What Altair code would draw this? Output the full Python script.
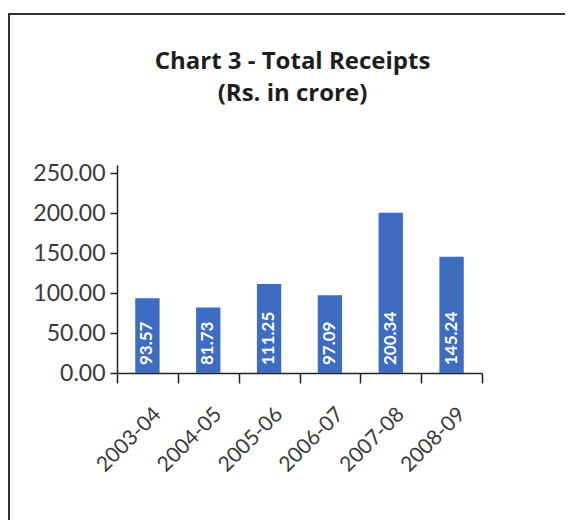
import altair as alt
import pandas as pd

years = ["2003-04", "2004-05", "2005-06", "2006-07", "2007-08", "2008-09"]
receipts = [93.57, 81.73, 111.25, 97.09, 200.34, 145.24]
y_ticks = [0, 50, 100, 150, 200, 250]

df = pd.DataFrame({"year": years, "value": receipts})
df["label"] = df["value"].map(lambda v: f"{v:.2f}")

FONT = "Lato"
TXT = "#3a3a3a"

x = alt.X("year:N", sort=years, title=None,
          scale=alt.Scale(paddingInner=0, paddingOuter=0),
          axis=alt.Axis(labelAngle=-45, labelAlign="right", labelBaseline="middle",
                        labelFontSize=21, labelFont=FONT, labelColor=TXT,
                        labelPadding=28, labelOffset=10,
                        tickBand="extent", tickSize=10, tickColor="#222", domainColor="#222",
                        domainWidth=1.5, tickWidth=1.5))
y = alt.Y("value:Q", title=None,
          scale=alt.Scale(domain=[0, 250]),
          axis=alt.Axis(values=y_ticks, format=".2f", grid=False,
                        labelFontSize=23, labelFont=FONT, labelColor=TXT,
                        labelPadding=5, tickSize=7, tickColor="#222", domainColor="#222",
                        domainWidth=1.5, tickWidth=1.5))

frame = alt.Chart(df).mark_rect(fill="transparent", stroke="#333", strokeWidth=2, clip=False).encode(
    x=alt.value(-108), x2=alt.value(454), y=alt.value(-151), y2=alt.value(359)
).transform_filter(alt.datum.year == years[0])

bars = alt.Chart(df).mark_bar(color="#3d6cc0", width=alt.RelativeBandSize(0.4)).encode(x=x, y=y)

labels = alt.Chart(df).mark_text(
    angle=270, align="left", baseline="middle", dx=8, fontSize=17,
    fontWeight="bold", font=FONT, color="white"
).encode(x=alt.X("year:N", sort=years), y=alt.datum(0), text="label:N")

chart = alt.layer(frame, bars, labels).properties(
    width=365, height=208,
    padding={"left": 109, "top": 157, "right": 83, "bottom": 147},
    autosize=alt.AutoSizeParams(type="none"),
    view=alt.ViewBackground(stroke="transparent", strokeWidth=0),
    title=alt.Title(["Chart 3 - Total Receipts", "(Rs. in crore)"],
                    font="Open Sans", fontSize=24, fontWeight="bold", color="#1e1e1e",
                    lineHeight=32, anchor="middle", offset=-93, dx=-7),
).configure_view(stroke="transparent", strokeWidth=0).configure(
    background="white", style={"cell": {"stroke": "transparent"}}
)

chart.save("out.html", embed_options={"renderer": "svg", "actions": False})
